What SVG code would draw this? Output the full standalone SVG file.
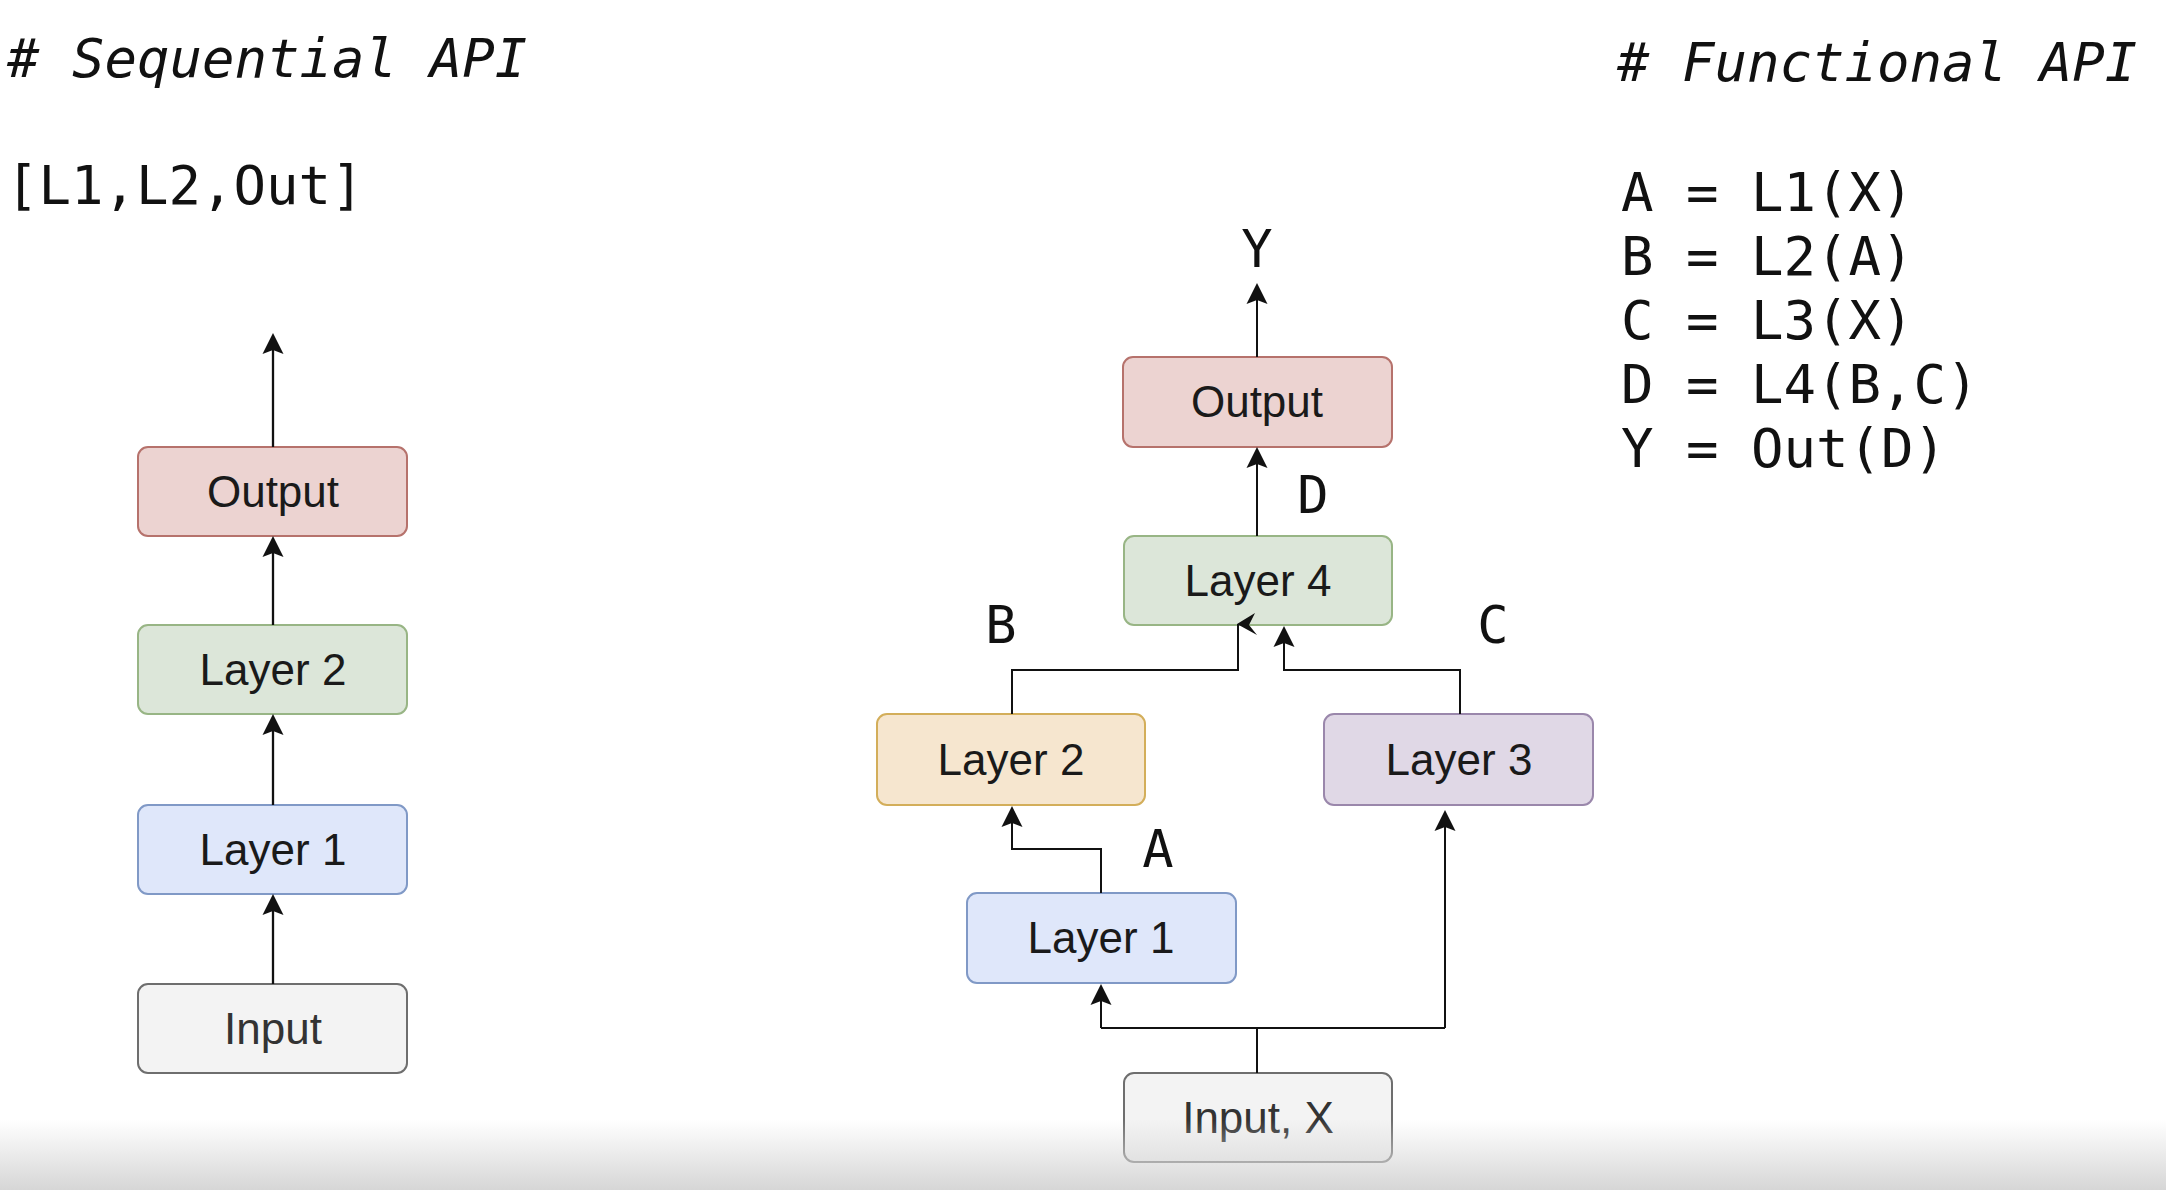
<svg xmlns="http://www.w3.org/2000/svg" width="2166" height="1190" viewBox="0 0 2166 1190">
<style>
.code{font-family:"DejaVu Sans Mono","Liberation Mono",monospace;font-size:54px;fill:#111}
.ital{font-style:italic}
.lbl{font-family:"DejaVu Sans Mono","Liberation Mono",monospace;font-size:52px;fill:#111;text-anchor:middle}
.bt{font-family:"Liberation Sans",Arial,sans-serif;font-size:44px;fill:#1a1a1a;text-anchor:middle}
.box{stroke-width:2}
.red{fill:#ecd3d1;stroke:#b6726c}
.green{fill:#dce6d9;stroke:#98b585}
.blue{fill:#dfe7fa;stroke:#8099c6}
.gray{fill:#f3f3f3;stroke:#6e6e6e}
.orange{fill:#f6e6cf;stroke:#d3ae5a}
.purple{fill:#e0d8e6;stroke:#9a87ab}
.ln{fill:none;stroke:#111;stroke-width:2.3}
.ln2{fill:none;stroke:#111;stroke-width:2}
.head{fill:#111}
</style>
<defs>
<marker id="arr" viewBox="0 -12 21 24" markerWidth="21" markerHeight="24" refX="4" refY="0" orient="auto" markerUnits="userSpaceOnUse">
<path d="M0,-10.5 L21,0 L0,10.5 L4,0 Z" fill="#111"/>
</marker>
<linearGradient id="fade" x1="0" y1="0" x2="0" y2="1">
<stop offset="0" stop-color="#d6d6d6" stop-opacity="0"/>
<stop offset="1" stop-color="#d6d6d6" stop-opacity="1"/>
</linearGradient>
</defs>
<rect x="0" y="0" width="2166" height="1190" fill="#ffffff"/>

<g id="titles">
<text class="code ital" x="7" y="77"># Sequential API</text>
<text class="code" x="6" y="204">[L1,L2,Out]</text>
<text class="code ital" x="1617" y="81"># Functional API</text>
<text class="code" x="1621" y="211">A = L1(X)</text>
<text class="code" x="1621" y="275">B = L2(A)</text>
<text class="code" x="1621" y="339">C = L3(X)</text>
<text class="code" x="1621" y="403">D = L4(B,C)</text>
<text class="code" x="1621" y="467">Y = Out(D)</text>
</g>

<g id="seq-output"><rect class="box red" x="138" y="447" width="269" height="89" rx="10"/><text class="bt" x="273" y="507">Output</text></g>
<g id="seq-layer2"><rect class="box green" x="138" y="625" width="269" height="89" rx="10"/><text class="bt" x="273" y="685">Layer 2</text></g>
<g id="seq-layer1"><rect class="box blue" x="138" y="805" width="269" height="89" rx="10"/><text class="bt" x="273" y="865">Layer 1</text></g>
<g id="seq-input"><rect class="box gray" x="138" y="984" width="269" height="89" rx="10"/><text class="bt" x="273" y="1044" style="fill:#333">Input</text></g>

<g id="fn-output"><rect class="box red" x="1123" y="357" width="269" height="90" rx="10"/><text class="bt" x="1257" y="417">Output</text></g>
<g id="fn-layer4"><rect class="box green" x="1124" y="536" width="268" height="89" rx="10"/><text class="bt" x="1258" y="596">Layer 4</text></g>
<g id="fn-layer2"><rect class="box orange" x="877" y="714" width="268" height="91" rx="10"/><text class="bt" x="1011" y="775">Layer 2</text></g>
<g id="fn-layer3"><rect class="box purple" x="1324" y="714" width="269" height="91" rx="10"/><text class="bt" x="1459" y="775">Layer 3</text></g>
<g id="fn-layer1"><rect class="box blue" x="967" y="893" width="269" height="90" rx="10"/><text class="bt" x="1101" y="953">Layer 1</text></g>
<g id="fn-input"><rect class="box gray" x="1124" y="1073" width="268" height="89" rx="10"/><text class="bt" x="1258" y="1133" style="fill:#333">Input, X</text></g>

<g id="connectors">
<line class="ln" x1="273" y1="984" x2="273" y2="911" marker-end="url(#arr)"/>
<line class="ln" x1="273" y1="805" x2="273" y2="731" marker-end="url(#arr)"/>
<line class="ln" x1="273" y1="625" x2="273" y2="553" marker-end="url(#arr)"/>
<line class="ln" x1="273" y1="447" x2="273" y2="350" marker-end="url(#arr)"/>
<line class="ln2" x1="1257" y1="357" x2="1257" y2="300" marker-end="url(#arr)"/>
<line class="ln2" x1="1257" y1="536" x2="1257" y2="464" marker-end="url(#arr)"/>
<polyline class="ln2" points="1012,714 1012,670 1238,670 1238,624"/>
<polygon class="head" points="1237,624 1255,613 1249,625 1257,635"/>
<polyline class="ln2" points="1460,714 1460,670 1284,670 1284,643" marker-end="url(#arr)"/>
<line class="ln2" x1="1257" y1="1073" x2="1257" y2="1028"/>
<polyline class="ln2" points="1101,1028 1445,1028"/>
<line class="ln2" x1="1101" y1="1028" x2="1101" y2="1001" marker-end="url(#arr)"/>
<line class="ln2" x1="1445" y1="1028" x2="1445" y2="827" marker-end="url(#arr)"/>
<polyline class="ln2" points="1101,893 1101,849 1012,849 1012,823" marker-end="url(#arr)"/>
</g>

<g id="labels">
<text class="lbl" x="1257" y="267">Y</text>
<text class="lbl" x="1313" y="513">D</text>
<text class="lbl" x="1001" y="643">B</text>
<text class="lbl" x="1493" y="643">C</text>
<text class="lbl" x="1158" y="867">A</text>
</g>

<rect x="0" y="1120" width="2166" height="70" fill="url(#fade)"/>
</svg>
